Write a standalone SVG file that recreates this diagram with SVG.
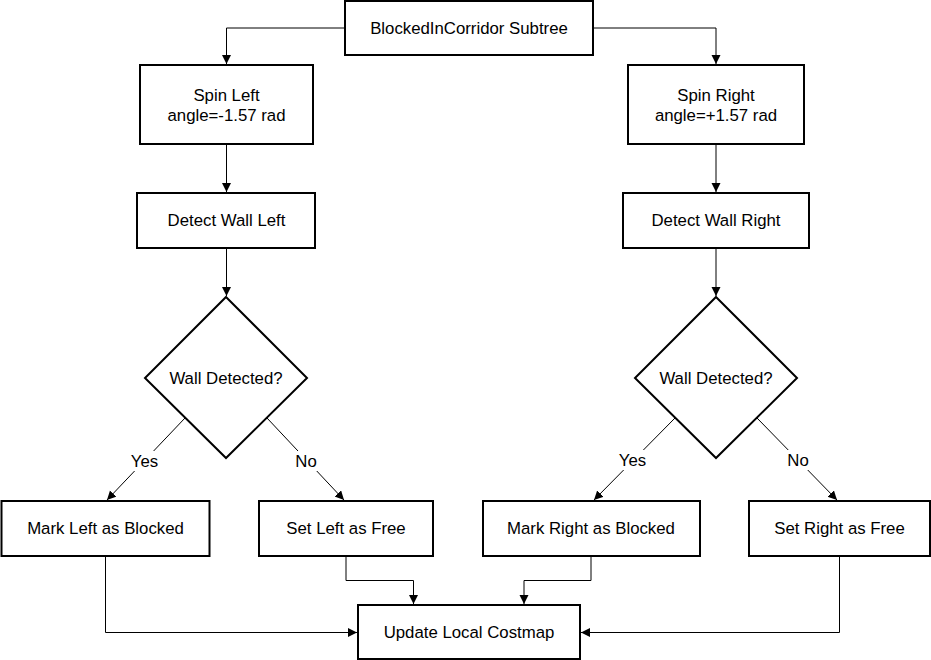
<svg xmlns="http://www.w3.org/2000/svg" width="931" height="660" viewBox="0 0 931 660">
<defs>
<marker id="arr" markerUnits="userSpaceOnUse" markerWidth="10" markerHeight="10" refX="9" refY="4.5" orient="auto">
<path d="M0,0 L9,4.5 L0,9 z" fill="#000"/>
</marker>
<style>
.box{fill:#fff;stroke:#000;stroke-width:2}
.t{font-family:"Liberation Sans",Arial,sans-serif;font-size:16.8px;fill:#000;text-anchor:middle;dominant-baseline:central}
.c{fill:none;stroke:#000;stroke-width:1}
.lbg{fill:#fff;stroke:none}
</style>
</defs>
<rect width="931" height="660" fill="#fff"/>
<g id="connectors">
<path class="c" d="M345,28 H226.5 V64" marker-end="url(#arr)"/>
<path class="c" d="M593,28 H716 V64" marker-end="url(#arr)"/>
<path class="c" d="M226.5,144 V192" marker-end="url(#arr)"/>
<path class="c" d="M716,144 V192" marker-end="url(#arr)"/>
<path class="c" d="M226.5,248 V296" marker-end="url(#arr)"/>
<path class="c" d="M716,248 V296" marker-end="url(#arr)"/>
<path class="c" d="M185,418 L107,500" marker-end="url(#arr)"/>
<path class="c" d="M267,418 L344,500" marker-end="url(#arr)"/>
<path class="c" d="M675,418 L594,500" marker-end="url(#arr)"/>
<path class="c" d="M757,418 L837,500" marker-end="url(#arr)"/>
<path class="c" d="M105.5,556 V632.5 H357" marker-end="url(#arr)"/>
<path class="c" d="M346,556 V580.5 H413.5 V604" marker-end="url(#arr)"/>
<path class="c" d="M591,556 V580.5 H524 V604" marker-end="url(#arr)"/>
<path class="c" d="M839.5,556 V632.5 H581" marker-end="url(#arr)"/>
<rect class="lbg" x="128" y="451" width="33" height="20"/>
<text class="t" x="144.5" y="461">Yes</text>
<rect class="lbg" x="293" y="451" width="26" height="20"/>
<text class="t" x="306" y="461">No</text>
<rect class="lbg" x="616" y="450" width="33" height="20"/>
<text class="t" x="632.5" y="460">Yes</text>
<rect class="lbg" x="785" y="450" width="26" height="20"/>
<text class="t" x="798" y="460">No</text>
</g>
<g id="root">
<rect class="box" x="345" y="1" width="248" height="54"/>
<text class="t" x="469" y="28">BlockedInCorridor Subtree</text>
</g>
<g id="spin_left">
<rect class="box" x="140" y="65" width="173" height="79"/>
<text class="t" x="226.5" y="95">Spin Left</text>
<text class="t" x="226.5" y="115">angle=-1.57 rad</text>
</g>
<g id="spin_right">
<rect class="box" x="628" y="65" width="176" height="79"/>
<text class="t" x="716" y="95">Spin Right</text>
<text class="t" x="716" y="115">angle=+1.57 rad</text>
</g>
<g id="detect_left">
<rect class="box" x="137" y="193" width="178" height="55"/>
<text class="t" x="226.5" y="220">Detect Wall Left</text>
</g>
<g id="detect_right">
<rect class="box" x="623" y="193" width="186" height="55"/>
<text class="t" x="716" y="220">Detect Wall Right</text>
</g>
<g id="decision_left">
<polygon class="box" points="226,297 307,378 226,458 145,378"/>
<text class="t" x="226" y="378">Wall Detected?</text>
</g>
<g id="decision_right">
<polygon class="box" points="716,297 797,378 716,458 635,378"/>
<text class="t" x="716" y="378">Wall Detected?</text>
</g>
<g id="mark_left">
<rect class="box" x="1.5" y="501" width="208" height="55"/>
<text class="t" x="105.5" y="528">Mark Left as Blocked</text>
</g>
<g id="free_left">
<rect class="box" x="259" y="501" width="174" height="55"/>
<text class="t" x="346" y="528">Set Left as Free</text>
</g>
<g id="mark_right">
<rect class="box" x="483" y="501" width="217" height="55"/>
<text class="t" x="591" y="528">Mark Right as Blocked</text>
</g>
<g id="free_right">
<rect class="box" x="749" y="501" width="181" height="55"/>
<text class="t" x="839.5" y="528">Set Right as Free</text>
</g>
<g id="update">
<rect class="box" x="358" y="605" width="222" height="54"/>
<text class="t" x="469" y="632">Update Local Costmap</text>
</g>
</svg>
